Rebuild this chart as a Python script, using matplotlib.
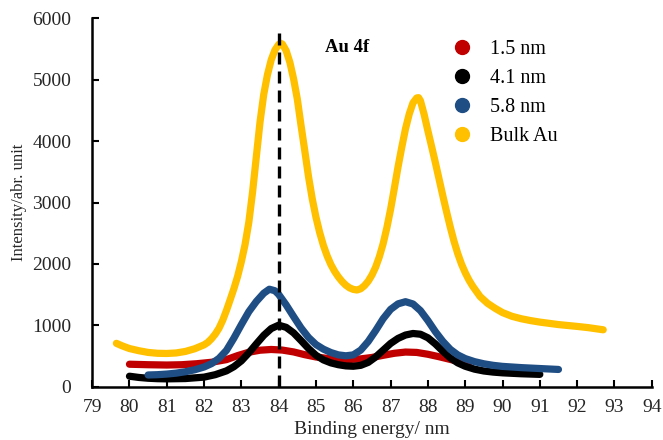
import numpy as np
import matplotlib.pyplot as plt
from matplotlib.lines import Line2D

plt.rcParams['font.family'] = ['Liberation Serif', 'DejaVu Serif']

# Au 4f XPS spectra, binding energy (eV) vs intensity
x_15 = [80.0, 80.5, 81.0, 81.4, 81.8, 82.2, 82.6, 82.9, 83.2, 83.5, 83.8, 84.1,
        84.4, 84.7, 85.0, 85.3, 85.6, 85.9, 86.2, 86.5, 86.8, 87.1, 87.4, 87.7,
        88.0, 88.3, 88.6, 88.9, 89.1]
y_15 = [370, 362, 357, 362, 378, 402, 445, 510, 565, 598, 610, 600,
        570, 525, 488, 465, 452, 447, 457, 480, 515, 548, 568, 562,
        532, 492, 448, 405, 385]

x_41 = [80.0, 80.25, 80.5, 80.75, 81.0, 81.5, 82.0, 82.3, 82.6, 82.8, 83.0, 83.2,
        83.4, 83.6, 83.8, 84.0, 84.2, 84.4, 84.6, 84.8, 85.0, 85.2, 85.4, 85.6,
        85.8, 86.0, 86.2, 86.4, 86.6, 86.8, 87.0, 87.2, 87.4, 87.6, 87.8, 88.0,
        88.2, 88.4, 88.6, 88.8, 89.0, 89.25, 89.5, 89.75, 90.0, 90.5, 91.0]
y_41 = [175, 155, 142, 135, 132, 137, 160, 200, 262, 330, 425, 555,
        700, 840, 950, 1005, 970, 880, 755, 625, 515, 440, 392, 362,
        343, 337, 352, 400, 488, 598, 708, 790, 845, 870, 858, 800,
        700, 582, 472, 392, 337, 290, 260, 242, 230, 215, 205]

x_58 = [80.5, 80.75, 81.0, 81.25, 81.5, 81.75, 82.0, 82.2, 82.4, 82.6, 82.8, 83.0,
        83.2, 83.4, 83.6, 83.75, 83.9, 84.0, 84.2, 84.4, 84.6, 84.8, 85.0, 85.2,
        85.4, 85.6, 85.8, 86.0, 86.2, 86.4, 86.6, 86.8, 87.0, 87.2, 87.4, 87.6,
        87.8, 88.0, 88.2, 88.4, 88.6, 88.8, 89.0, 89.25, 89.5, 89.75, 90.0, 90.5,
        91.0, 91.5]
y_58 = [195, 200, 210, 225, 248, 280, 325, 380, 465, 595, 795, 1015,
        1225, 1390, 1525, 1590, 1565, 1505, 1335, 1145, 960, 805, 690, 615,
        560, 522, 507, 522, 600, 740, 918, 1110, 1262, 1352, 1387, 1350,
        1242, 1080, 900, 742, 612, 522, 462, 412, 377, 352, 335, 315,
        300, 285]

x_bulk = [79.65, 79.8, 80.0, 80.25, 80.5, 80.75, 81.0, 81.25, 81.5, 81.75, 82.0,
          82.1, 82.2, 82.3, 82.4, 82.5, 82.6, 82.7, 82.8, 82.9, 83.0, 83.1, 83.2,
          83.3, 83.4, 83.5, 83.6, 83.7, 83.8, 83.9, 84.0, 84.05, 84.1, 84.2, 84.3,
          84.4, 84.5, 84.6, 84.7, 84.8, 84.9, 85.0, 85.1, 85.2, 85.3, 85.4, 85.5,
          85.6, 85.7, 85.8, 85.9, 86.0, 86.1, 86.2, 86.3, 86.4, 86.5, 86.6, 86.7,
          86.8, 86.9, 87.0, 87.1, 87.2, 87.3, 87.4, 87.5, 87.6, 87.7, 87.75, 87.8,
          87.9, 88.0, 88.1, 88.2, 88.3, 88.4, 88.5, 88.6, 88.7, 88.8, 88.9, 89.0,
          89.1, 89.2, 89.4, 89.6, 89.8, 90.0, 90.25, 90.5, 90.75, 91.0, 91.5, 92.0,
          92.3, 92.7]
y_bulk = [710, 670, 625, 590, 562, 548, 545, 553, 578, 622, 685,
          725, 785, 860, 955, 1085, 1245, 1420, 1600, 1800, 2040, 2320, 2680,
          3170, 3740, 4310, 4760, 5080, 5320, 5480, 5570, 5590, 5575, 5470, 5280,
          5010, 4680, 4250, 3840, 3420, 3060, 2760, 2510, 2300, 2130, 1990, 1880,
          1790, 1715, 1655, 1612, 1587, 1577, 1598, 1648, 1720, 1820, 1950, 2120,
          2330, 2590, 2890, 3230, 3580, 3900, 4200, 4440, 4620, 4700, 4705, 4655,
          4430, 4165, 3910, 3650, 3380, 3110, 2850, 2600, 2370, 2170, 2000, 1860,
          1740, 1640, 1470, 1360, 1280, 1210, 1150, 1110, 1080, 1055, 1015, 985,
          965, 930]

labels = ['1.5 nm', '4.1 nm', '5.8 nm', 'Bulk Au']
colors = ['#c00000', '#000000', '#1f4e85', '#ffc000']
series = [(x_15, y_15), (x_41, y_41), (x_58, y_58), (x_bulk, y_bulk)]

fig = plt.figure(figsize=(6.63, 4.40), dpi=100)
ax = fig.add_axes([0.139, 0.1205, 0.844, 0.8385])

for (xs, ys), c in zip(series, colors):
    ax.plot(xs, ys, color=c, lw=5.2, solid_capstyle='round', solid_joinstyle='round')

ax.plot([84.02, 84.02], [0, 5820], color='black', lw=2.4, linestyle=(0, (3.6, 2.1)))

ax.text(85.84, 5528, 'Au 4f', fontsize=13.5, fontweight='bold', ha='center', va='center')

handles = [Line2D([], [], marker='o', ls='none', color=c, markersize=10) for c in colors]
ax.legend(handles, labels, loc='upper left', bbox_to_anchor=(0.644, 0.94), frameon=False,
          fontsize=14.5, handlelength=0.95, handletextpad=0.9, labelspacing=0.48,
          borderpad=0, borderaxespad=0)

ax.set_xlim(79, 94)
ax.set_ylim(0, 6000)
ax.set_xticks(np.arange(79, 95, 1))
ax.set_yticks(np.arange(0, 6001, 1000))
ax.tick_params(direction='in', length=5, width=1.5, labelsize=14, labelcolor='#262626')
ax.tick_params(axis='x', pad=9)
ax.tick_params(axis='y', pad=15)
for s in ['top', 'right']:
    ax.spines[s].set_visible(False)
for s in ['left', 'bottom']:
    ax.spines[s].set_linewidth(1.8)

ax.set_xlabel('Binding energy/ nm', fontsize=14, color='#262626', labelpad=3)
ax.set_ylabel('Intensity/abr. unit', fontsize=12, color='#262626', labelpad=4)

fig.savefig('out.png', dpi=100)
